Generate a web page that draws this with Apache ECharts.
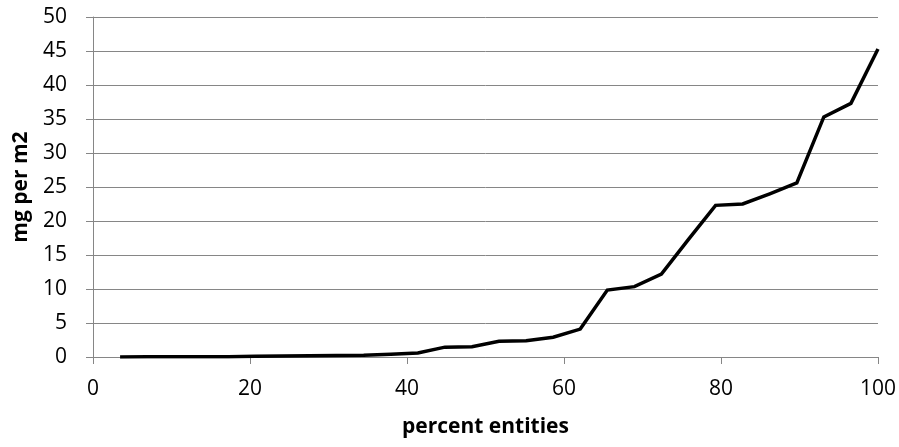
<!DOCTYPE html>
<html>
<head>
<meta charset="utf-8">
<script src="https://cdn.jsdelivr.net/npm/echarts@6/dist/echarts.min.js"></script>
<style>html,body{margin:0;padding:0;background:#fff}#c{width:899px;height:447px}</style>
</head>
<body>
<div id="c"></div>
<script>
const percentEntities = [3.45, 6.90, 10.34, 13.79, 17.24, 20.69, 24.14, 27.59, 31.03, 34.48, 37.93, 41.38, 44.83, 48.28, 51.72, 55.17, 58.62, 62.07, 65.52, 68.97, 72.41, 75.86, 79.31, 82.76, 86.21, 89.66, 93.10, 96.55, 100];
const mgPerM2 = [0, 0.02, 0.03, 0.04, 0.05, 0.1, 0.15, 0.2, 0.22, 0.25, 0.4, 0.6, 1.45, 1.5, 2.3, 2.4, 2.9, 4.1, 9.85, 10.35, 12.2, 17.3, 22.3, 22.5, 24.0, 25.6, 35.3, 37.3, 45.3];
const xTicks = {min: 0, max: 100, interval: 20};
const yTicks = {min: 0, max: 50, interval: 5};
const xName = 'percent entities';
const yName = 'mg per m2';

const FONT = 'Open Sans';
const chart = echarts.init(document.getElementById('c'), null, {renderer: 'canvas'});
chart.setOption({
  animation: false,
  backgroundColor: '#ffffff',
  grid: {left: 93, right: 20, top: 17, bottom: 90, containLabel: false},
  xAxis: {
    type: 'value', min: xTicks.min, max: xTicks.max, interval: xTicks.interval,
    name: xName, nameLocation: 'middle', nameGap: 60,
    nameTextStyle: {fontFamily: FONT, fontSize: 21, fontWeight: 'bold', color: '#000'},
    axisLine: {show: true, onZero: false, lineStyle: {color: '#868686', width: 1}},
    axisTick: {show: true, inside: false, length: 7, lineStyle: {color: '#868686'}},
    axisLabel: {margin: 22, fontFamily: FONT, fontSize: 21, color: '#000'},
    splitLine: {show: false}
  },
  yAxis: {
    type: 'value', min: yTicks.min, max: yTicks.max, interval: yTicks.interval,
    name: yName, nameLocation: 'middle', nameGap: 61,
    nameTextStyle: {fontFamily: FONT, fontSize: 21, fontWeight: 'bold', color: '#000'},
    axisLine: {show: true, lineStyle: {color: '#868686', width: 1}},
    axisTick: {show: true, inside: false, length: 7, lineStyle: {color: '#868686'}},
    axisLabel: {margin: 26, fontFamily: FONT, fontSize: 21, color: '#000'},
    splitLine: {show: true, lineStyle: {color: '#868686', width: 1}}
  },
  series: [{
    type: 'line',
    data: percentEntities.map((x, i) => [x, mgPerM2[i]]),
    showSymbol: false, symbol: 'none',
    lineStyle: {color: '#000', width: 3.5, join: 'miter'},
    itemStyle: {color: '#000'}
  }]
});
</script>
</body>
</html>
